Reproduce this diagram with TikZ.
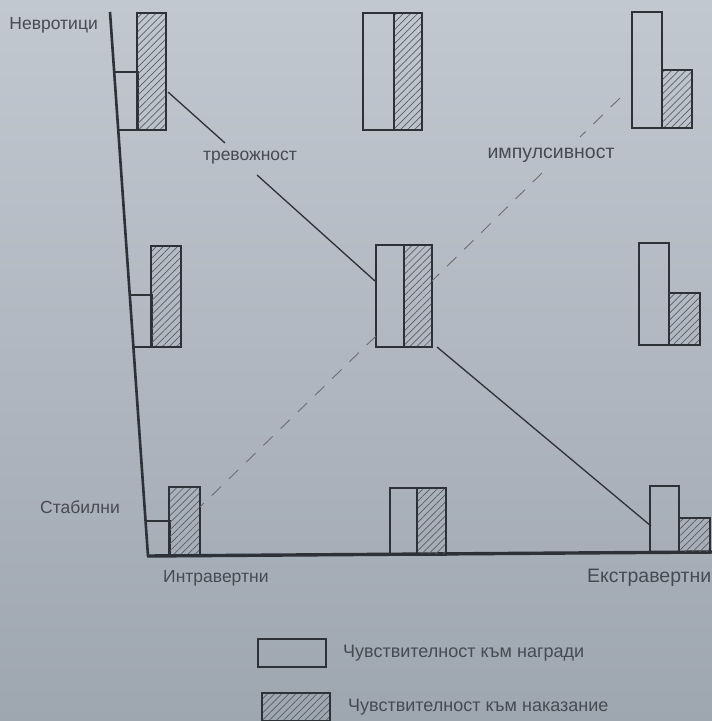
\documentclass[tikz,border=0pt]{standalone}
\usepackage{fontspec}
\setmainfont{Liberation Sans}
\usetikzlibrary{patterns.meta, positioning}
\definecolor{paper}{RGB}{194,200,208}
\definecolor{paperlow}{RGB}{158,166,176}
\definecolor{ink}{RGB}{45,49,56}
\definecolor{hatchink}{RGB}{88,94,102}
\definecolor{txt}{RGB}{70,75,83}

\begin{document}
\begin{tikzpicture}[x=1pt, y=-1pt,
	axisline/.style={ink, line width=2.6pt},
	barline/.style={ink, line width=1.8pt},
	hatchbar/.style={barline, pattern={Lines[angle=45, distance=5pt, line width=0.7pt]}, pattern color=hatchink},
	traitline/.style={ink, line width=1.3pt},
	dimline/.style={ink!70, line width=0.9pt, dash pattern=on 13pt off 11pt},
	lbl/.style={txt, font=\fontsize{17.5}{20}\selectfont, inner sep=0pt},
	biglbl/.style={txt, font=\fontsize{19.5}{22}\selectfont, inner sep=0pt},
	legtxt/.style={txt, font=\fontsize{18}{21}\selectfont, inner sep=0pt}]
			\shade[top color=paper, bottom color=paperlow] (0,0) rectangle (712,721);
			\useasboundingbox (0,0) rectangle (712,721);
			\draw[axisline] (110,12) -- (148,556);
			\draw[axisline, line width=3.4pt] (147,556) -- (712,552);
			\draw[barline] (114,72) -- (138,72) -- (138,130) -- (118,130);
			\draw[hatchbar] (137,13) rectangle (166,130);
			\draw[barline] (363,13) rectangle (394,130);
			\draw[hatchbar] (394,13) rectangle (422,130);
			\draw[barline] (632,12) rectangle (662,128);
			\draw[hatchbar] (662,70) rectangle (692,128);
			\draw[barline] (130,295) -- (152,295) -- (152,347) -- (134,347);
			\draw[hatchbar] (151,246) rectangle (181,347);
			\draw[barline] (376,245) rectangle (404,347);
			\draw[hatchbar] (404,245) rectangle (432,347);
			\draw[barline] (639,243) rectangle (669,345);
			\draw[hatchbar] (669,293) rectangle (700,345);
			\draw[barline] (146,521) -- (170,521) -- (170,555);
			\draw[hatchbar] (169,487) rectangle (200,555);
			\draw[barline] (390,555) -- (390,488) -- (417,488) -- (417,555);
			\draw[hatchbar] (417,488) rectangle (446,555);
			\draw[barline] (650,553) -- (650,486) -- (679,486) -- (679,553);
			\draw[hatchbar] (679,518) rectangle (710,553);
			\coordinate (tr1) at (168,92);
			\coordinate (tr2) at (225,143);
			\coordinate (tr3) at (257,175);
			\coordinate (tr4) at (375,281);
			\coordinate (tr5) at (437,347);
			\coordinate (tr6) at (651,526);
			\coordinate (im1) at (620,98);
			\coordinate (im2) at (580,137);
			\coordinate (im3) at (542,173);
			\coordinate (im4) at (432,281);
			\coordinate (im5) at (376,336);
			\coordinate (im6) at (200,507);
			\draw[traitline] (tr1) -- (tr2);
			\draw[traitline] (tr3) -- (tr4);
			\draw[traitline] (tr5) -- (tr6);
			\draw[dimline] (im1) -- (im2);
			\draw[dimline] (im3) -- (im4);
			\draw[dimline] (im5) -- (im6);
			\node[lbl, anchor=east] (neur) at (98,25) {Невротици};
			\node[lbl, anchor=east] (stab) at (120,507) {Стабилни};
			\node[lbl, anchor=west] (intro) at (163,578) {Интравертни};
			\node[biglbl, anchor=west] (extro) at (587,578) {Екстравертни};
			\node[lbl] (anx) at (250,158) {тревожност};
			\node[biglbl] (imp) at (551,155) {импулсивност};
			\draw[barline] (258,639) rectangle (326,667);
			\draw[hatchbar] (262,693) rectangle (330,721);
			\node[legtxt, anchor=west] (rew) at (343,653) {Чувствителност към награди};
			\node[legtxt, anchor=west] (pun) at (348,707) {Чувствителност към наказание};
\end{tikzpicture}
\end{document}
